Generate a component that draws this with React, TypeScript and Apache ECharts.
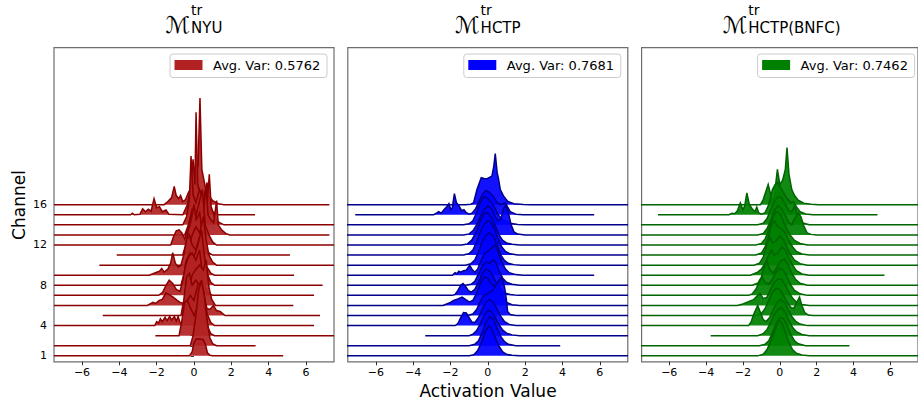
import React, { useEffect, useRef } from 'react';
import * as echarts from 'echarts';

const channels = [1, 2, 3, 4, 5, 6, 7, 8, 9, 10, 11, 12, 13, 14, 15, 16];
const xTicks = [-6, -4, -2, 0, 2, 4, 6];
const yTickLabels = [1, 4, 8, 12, 16];
const panelSubs = ['NYU', 'HCTP', 'HCTP(BNFC)'];
const avgVars = ['0.5762', '0.7681', '0.7462'];

// curve extent per channel (ch1..ch16)
const nyuXMin = [-8, -8, -2.07, -8, -4.89, -8, -8, -8, -8, -5.07, -4.14, -8, -8, -8, -8, -8];
const nyuXMax = [4.78, 3.3, 8, 6.43, 6.75, 5.32, 6.43, 6.89, 5.36, 8, 5.14, 8, 7.25, 8, 3.27, 7.25];
const hctpXMin = [-8, -8, -3.35, -8, -8, -8, -8, -8, -8, -8, -8, -8, -8, -8, -7.1, -8];
const hctpXMax = [8, 3.88, 8, 8, 8, 8, 8, 8, 5.7, 8, 8, 8, 8, 8, 5.7, 8];
const bnfcXMin = [-8, -8, -3.75, -8, -8, -8, -8, -8, -8, -8, -8, -8, -8, -8, -6.61, -8];
const bnfcXMax = [8, 3.78, 8, 8, 8, 8, 8, 8, 5.68, 8, 8, 8, 8, 8, 5.3, 8];

// density profiles [activation, height] per channel (ch1..ch16)
const nyuDensity = [
  [[-0.25,0],[-0.1,0.4],[-0.02,1.2],[0.1,1.65],[0.3,1.7],[0.5,1.6],[0.62,1.1],[0.72,0.3],[0.85,0.05],[1.0,0]],
  [[-0.2,0],[-0.05,1.0],[0.1,3.0],[0.25,5.5],[0.4,6.5],[0.55,5.0],[0.7,2.5],[0.85,0.8],[1.0,0.2],[1.2,0]],
  [[-0.8,0],[-0.65,1.5],[-0.5,3.3],[-0.35,3.5],[-0.2,2.8],[0.0,2.0],[0.2,2.8],[0.4,3.5],[0.6,2.5],[0.75,0.8],[0.9,0.2],[1.1,0]],
  [[-2.1,0],[-2.0,0.4],[-1.9,0.25],[-1.8,0.67],[-1.7,0.4],[-1.55,0.83],[-1.45,0.5],[-1.3,0.9],[-1.2,0.55],[-1.05,0.9],[-0.95,0.45],[-0.85,0.9],[-0.75,0.3],[-0.65,0.2],[-0.5,0.8],[-0.35,2.5],[-0.2,3.0],[0.0,2.5],[0.2,4.0],[0.4,4.3],[0.55,3.0],[0.7,1.2],[0.9,0.3],[1.1,0]],
  [[-0.7,0],[-0.55,1.5],[-0.4,3.8],[-0.25,4.2],[-0.1,3.0],[0.1,3.5],[0.3,3.0],[0.5,2.0],[0.7,0.7],[0.85,0.6],[1.04,1.0],[1.2,0.5],[1.4,0.4],[1.66,0]],
  [[-2.5,0],[-2.35,0.15],[-2.2,0.3],[-2.05,0.2],[-1.86,0.5],[-1.7,0.6],[-1.5,1.23],[-1.35,1.1],[-1.1,0.8],[-0.9,0.5],[-0.75,0.3],[-0.55,0.2],[-0.3,1.5],[-0.1,3.0],[0.1,3.6],[0.3,4.0],[0.5,3.5],[0.65,4.5],[0.8,1.8],[0.95,0.6],[1.15,0]],
  [[-1.9,0],[-1.68,0.3],[-1.5,1.0],[-1.33,1.5],[-1.15,1.2],[-0.95,0.6],[-0.75,0.4],[-0.6,1.5],[-0.45,3.0],[-0.3,3.8],[-0.1,4.2],[0.1,3.5],[0.3,4.5],[0.45,2.0],[0.6,0.8],[0.8,0.2],[1.0,0]],
  [[-0.7,0],[-0.55,1.0],[-0.4,2.5],[-0.2,3.2],[0.0,2.8],[0.2,4.0],[0.4,5.5],[0.55,3.0],[0.7,1.2],[0.9,0.3],[1.1,0]],
  [[-2.4,0],[-2.2,0.15],[-2.0,0.3],[-1.85,0.4],[-1.73,0.67],[-1.6,0.3],[-1.4,0.6],[-1.25,1.2],[-1.14,2.23],[-1.0,1.2],[-0.84,0.8],[-0.7,1.0],[-0.55,2.0],[-0.4,3.5],[-0.25,4.0],[-0.1,3.0],[0.1,2.5],[0.3,3.8],[0.5,2.0],[0.7,0.8],[0.9,0.2],[1.1,0]],
  [[-0.5,0],[-0.3,1.2],[-0.1,3.0],[0.1,3.8],[0.3,3.2],[0.5,4.8],[0.65,2.5],[0.8,1.0],[1.0,0.3],[1.2,0]],
  [[-0.6,0],[-0.45,1.0],[-0.3,2.5],[-0.15,3.5],[0.0,5.0],[0.12,3.5],[0.3,4.2],[0.45,2.0],[0.6,0.8],[0.8,0.2],[1.0,0]],
  [[-1.25,0],[-1.1,0.8],[-0.95,1.4],[-0.8,1.5],[-0.65,1.2],[-0.5,0.6],[-0.35,1.5],[-0.15,3.0],[0.05,2.5],[0.25,4.0],[0.45,5.5],[0.6,2.0],[0.8,1.0],[1.0,0.3],[1.2,0]],
  [[-0.5,0],[-0.3,1.0],[-0.1,2.5],[0.1,2.0],[0.3,3.0],[0.5,2.2],[0.64,4.83],[0.75,2.0],[0.9,1.5],[1.05,1.2],[1.21,3.4],[1.3,1.0],[1.5,0.45],[1.7,0.15],[1.9,0]],
  [[-0.6,0],[-0.4,0.8],[-0.25,2.5],[-0.16,6.83],[-0.05,3.0],[0.1,2.2],[0.3,3.5],[0.5,2.5],[0.7,2.0],[0.82,5.0],[0.92,1.8],[1.1,0.8],[1.3,0.3],[1.6,0]],
  [[-3.4,0],[-3.3,0.15],[-3.2,0],[-2.9,0.05],[-2.75,0.6],[-2.6,0.3],[-2.45,0.55],[-2.3,0.35],[-2.14,1.6],[-2.0,0.7],[-1.85,0.8],[-1.7,0.3],[-1.5,0.47],[-1.35,0.05],[-0.6,0],[-0.35,1.0],[-0.2,2.5],[-0.05,5.5],[0.05,3.0],[0.11,10.17],[0.2,3.0],[0.35,2.0],[0.5,1.5],[0.7,3.2],[0.8,1.0],[1.0,0.3],[1.3,0]],
  [[-1.6,0],[-1.4,0.3],[-1.2,0.7],[-1.06,1.8],[-0.95,0.9],[-0.82,0.6],[-0.72,0.9],[-0.6,0.3],[-0.45,0.5],[-0.3,1.2],[-0.1,1.8],[0.1,2.5],[0.22,4.0],[0.32,10.57],[0.42,3.5],[0.6,1.8],[0.8,0.9],[1.0,0.4],[1.3,0.1],[1.6,0]],
];

const hctpDensity = [
  [[-1.0,0],[-0.75,0.1],[-0.55,0.5],[-0.35,1.3],[-0.15,2.3],[0.05,3.0],[0.2,2.7],[0.4,1.8],[0.6,0.95],[0.8,0.4],[1.0,0.15],[1.3,0.05],[1.7,0]],
  [[-1.0,0],[-0.7,0.15],[-0.5,0.5],[-0.3,1.3],[-0.1,2.3],[0.1,2.9],[0.3,2.6],[0.5,1.7],[0.7,0.9],[0.9,0.4],[1.1,0.15],[1.5,0]],
  [[-1.0,0],[-0.8,0.15],[-0.6,0.5],[-0.4,1.2],[-0.2,2.0],[0.0,2.5],[0.2,2.4],[0.4,1.8],[0.6,1.1],[0.8,0.55],[1.0,0.25],[1.3,0.08],[1.7,0]],
  [[-1.75,0],[-1.6,0.2],[-1.45,0.8],[-1.3,1.3],[-1.15,1.25],[-1.0,0.8],[-0.85,0.35],[-0.7,0.3],[-0.5,0.8],[-0.3,1.6],[-0.1,2.3],[0.1,2.6],[0.3,2.3],[0.5,1.6],[0.7,0.9],[0.9,0.4],[1.15,0.12],[1.5,0]],
  [[-1.1,0],[-0.8,0.15],[-0.6,0.6],[-0.4,1.4],[-0.2,2.0],[0.0,2.2],[0.2,2.4],[0.4,2.9],[0.6,3.5],[0.75,3.8],[0.9,2.8],[1.0,1.5],[1.06,0.4],[1.2,0.1],[1.5,0]],
  [[-2.4,0],[-2.2,0.15],[-2.0,0.3],[-1.83,0.5],[-1.6,0.65],[-1.38,0.83],[-1.2,0.6],[-1.0,0.35],[-0.8,0.5],[-0.6,1.2],[-0.4,2.2],[-0.2,2.8],[0.0,2.7],[0.2,2.1],[0.4,1.9],[0.55,2.3],[0.7,1.6],[0.85,0.7],[1.0,0.3],[1.3,0.08],[1.7,0]],
  [[-1.9,0],[-1.75,0.1],[-1.6,0.5],[-1.45,1.0],[-1.33,1.17],[-1.2,0.9],[-1.05,0.5],[-0.9,0.3],[-0.7,0.6],[-0.5,1.3],[-0.3,2.1],[-0.1,2.6],[0.1,2.4],[0.3,1.8],[0.5,1.1],[0.7,0.55],[0.9,0.25],[1.2,0.08],[1.6,0]],
  [[-1.2,0],[-0.9,0.1],[-0.7,0.4],[-0.5,1.1],[-0.3,1.9],[-0.1,2.3],[0.1,2.2],[0.3,2.5],[0.45,2.2],[0.6,1.4],[0.8,0.7],[1.0,0.3],[1.3,0.1],[1.7,0]],
  [[-1.9,0],[-1.75,0.25],[-1.65,0.15],[-1.55,0.4],[-1.45,0.3],[-1.3,0.45],[-1.15,0.5],[-0.97,1.0],[-0.85,0.6],[-0.7,0.3],[-0.55,0.6],[-0.35,1.5],[-0.15,2.2],[0.05,2.4],[0.25,2.8],[0.4,3.0],[0.55,2.3],[0.75,1.3],[0.95,0.6],[1.15,0.25],[1.5,0.06],[1.9,0]],
  [[-1.2,0],[-0.9,0.15],[-0.7,0.5],[-0.5,1.3],[-0.3,2.3],[-0.1,3.0],[0.1,3.2],[0.3,2.9],[0.5,2.0],[0.7,1.0],[0.9,0.45],[1.1,0.18],[1.4,0.05],[1.8,0]],
  [[-1.3,0],[-1.0,0.15],[-0.8,0.5],[-0.6,1.3],[-0.4,2.3],[-0.2,3.0],[0.0,3.4],[0.15,3.3],[0.35,2.6],[0.55,1.6],[0.75,0.8],[0.95,0.35],[1.2,0.12],[1.6,0]],
  [[-1.4,0],[-1.1,0.1],[-0.85,0.5],[-0.6,1.4],[-0.4,2.4],[-0.2,3.1],[0.0,3.2],[0.2,2.7],[0.4,1.9],[0.6,1.0],[0.8,0.45],[1.0,0.2],[1.3,0.07],[1.7,0]],
  [[-1.3,0],[-1.0,0.1],[-0.8,0.4],[-0.6,1.0],[-0.4,1.8],[-0.2,2.5],[0.0,2.9],[0.2,2.6],[0.4,1.8],[0.55,1.4],[0.7,1.6],[0.85,2.6],[0.95,3.0],[1.1,2.2],[1.25,1.0],[1.4,0.3],[1.6,0.08],[2.0,0]],
  [[-1.3,0],[-1.0,0.1],[-0.8,0.4],[-0.6,1.2],[-0.4,2.2],[-0.2,2.8],[0.0,2.6],[0.2,2.2],[0.4,1.6],[0.55,1.0],[0.7,0.7],[0.9,0.4],[1.2,0.15],[1.6,0.03],[2.0,0]],
  [[-2.9,0],[-2.75,0.15],[-2.63,0.3],[-2.5,0.15],[-2.35,0.5],[-2.2,0.8],[-2.08,1.1],[-1.98,0.5],[-1.9,0.7],[-1.79,2.1],[-1.68,1.2],[-1.55,0.9],[-1.4,0.4],[-1.28,0.5],[-1.15,0.2],[-1.0,0.05],[-0.85,0.15],[-0.65,0.6],[-0.5,1.2],[-0.3,2.0],[-0.1,2.4],[0.1,2.2],[0.3,1.8],[0.5,1.2],[0.7,1.0],[0.94,1.2],[1.05,0.8],[1.2,0.3],[1.5,0.05],[1.9,0]],
  [[-1.2,0],[-0.9,0.05],[-0.76,0.2],[-0.58,1.5],[-0.35,2.67],[-0.2,2.6],[-0.04,2.57],[0.22,2.83],[0.32,3.8],[0.4,5.07],[0.5,3.2],[0.58,2.5],[0.67,1.5],[0.85,0.83],[1.06,0.33],[1.4,0.1],[1.9,0.02],[2.3,0]],
];

const bnfcDensity = [
  [[-1.2,0],[-0.9,0.15],[-0.7,0.6],[-0.5,1.4],[-0.3,2.4],[-0.1,3.3],[0.0,3.5],[0.15,3.1],[0.3,2.3],[0.5,1.3],[0.7,0.6],[0.9,0.25],[1.2,0.08],[1.6,0]],
  [[-1.1,0],[-0.8,0.15],[-0.6,0.5],[-0.4,1.3],[-0.2,2.2],[0.0,2.8],[0.2,2.7],[0.4,2.0],[0.6,1.1],[0.8,0.5],[1.0,0.2],[1.4,0]],
  [[-1.2,0],[-0.9,0.2],[-0.7,0.6],[-0.5,1.3],[-0.3,2.1],[-0.1,2.6],[0.1,2.8],[0.3,2.3],[0.5,1.5],[0.7,0.8],[0.9,0.4],[1.2,0.12],[1.6,0]],
  [[-1.7,0],[-1.55,0.4],[-1.4,1.2],[-1.2,2.0],[-1.05,1.3],[-0.9,0.6],[-0.75,0.4],[-0.55,0.8],[-0.35,1.6],[-0.15,2.3],[0.05,2.6],[0.25,2.3],[0.45,1.6],[0.65,0.9],[0.85,0.45],[1.1,0.15],[1.5,0]],
  [[-1.3,0],[-1.0,0.2],[-0.8,0.7],[-0.6,1.5],[-0.4,2.3],[-0.2,2.7],[0.0,2.6],[0.2,2.0],[0.4,1.3],[0.6,0.8],[0.75,0.7],[0.9,1.2],[1.07,1.83],[1.2,1.0],[1.35,0.3],[1.55,0.05],[1.8,0]],
  [[-2.3,0],[-2.0,0.15],[-1.8,0.3],[-1.6,0.45],[-1.43,0.57],[-1.25,0.9],[-1.07,1.17],[-0.9,0.7],[-0.7,0.8],[-0.5,1.6],[-0.3,2.3],[-0.1,2.6],[0.1,2.6],[0.3,2.0],[0.5,1.3],[0.7,0.7],[0.9,0.35],[1.2,0.1],[1.6,0]],
  [[-1.7,0],[-1.5,0.15],[-1.3,0.6],[-1.1,1.4],[-0.95,1.8],[-0.8,1.3],[-0.6,1.1],[-0.4,1.6],[-0.2,2.3],[0.0,2.7],[0.2,2.5],[0.4,1.8],[0.6,1.0],[0.8,0.5],[1.1,0.15],[1.5,0]],
  [[-1.5,0],[-1.2,0.2],[-1.0,0.8],[-0.85,1.9],[-0.7,2.4],[-0.55,1.6],[-0.35,1.2],[-0.15,1.8],[0.05,2.4],[0.25,2.6],[0.45,2.0],[0.65,1.2],[0.85,0.6],[1.1,0.2],[1.5,0]],
  [[-1.6,0],[-1.4,0.15],[-1.2,0.3],[-1.0,0.6],[-0.8,1.2],[-0.6,2.0],[-0.45,2.5],[-0.3,2.0],[-0.1,2.2],[0.1,2.8],[0.3,2.5],[0.5,1.7],[0.7,1.0],[0.9,0.45],[1.2,0.12],[1.6,0]],
  [[-1.4,0],[-1.1,0.2],[-0.9,0.8],[-0.7,2.0],[-0.55,2.8],[-0.4,2.2],[-0.2,2.4],[0.0,2.9],[0.2,2.5],[0.4,1.7],[0.6,1.0],[0.8,0.5],[1.1,0.15],[1.5,0]],
  [[-1.3,0],[-1.0,0.2],[-0.8,0.8],[-0.6,2.0],[-0.45,3.0],[-0.3,3.4],[-0.1,2.8],[0.1,2.6],[0.3,2.2],[0.5,1.4],[0.7,0.8],[0.9,0.35],[1.2,0.1],[1.6,0]],
  [[-1.3,0],[-1.0,0.15],[-0.8,0.6],[-0.6,1.5],[-0.4,2.6],[-0.2,3.3],[0.0,3.1],[0.2,2.3],[0.4,1.5],[0.6,0.9],[0.8,0.45],[1.1,0.15],[1.5,0]],
  [[-1.2,0],[-0.9,0.15],[-0.7,0.6],[-0.5,1.4],[-0.3,2.4],[-0.1,2.9],[0.1,2.6],[0.3,1.9],[0.5,1.2],[0.65,1.0],[0.8,1.6],[1.0,2.17],[1.15,1.8],[1.3,0.9],[1.48,0.2],[1.7,0.05],[2.0,0]],
  [[-1.2,0],[-0.9,0.15],[-0.7,0.6],[-0.5,1.5],[-0.3,2.3],[-0.1,2.8],[0.1,2.7],[0.3,2.0],[0.5,1.4],[0.65,1.3],[0.8,1.83],[0.95,1.0],[1.2,0.2],[1.6,0]],
  [[-2.75,0],[-2.6,0.15],[-2.45,0.1],[-2.3,0.4],[-2.14,1.17],[-2.0,0.5],[-1.9,0.9],[-1.79,2.17],[-1.65,1.0],[-1.5,0.6],[-1.35,0.3],[-1.25,0.77],[-1.15,0.2],[-1.0,0.05],[-0.8,0.2],[-0.6,1.0],[-0.4,2.5],[-0.25,3.0],[-0.13,3.2],[0.0,2.8],[0.2,2.2],[0.4,1.6],[0.6,1.2],[0.75,1.3],[0.9,0.8],[1.1,0.3],[1.4,0.08],[1.8,0]],
  [[-1.05,0],[-0.9,0.5],[-0.63,2.0],[-0.4,0.3],[-0.3,0.8],[-0.13,3.5],[0.0,2.0],[0.15,2.4],[0.3,3.5],[0.39,5.67],[0.5,3.0],[0.65,1.5],[0.8,0.9],[1.0,0.45],[1.3,0.15],[1.7,0.03],[2.1,0]],
];

const PANEL_LEFT = [54, 347.8, 641.6];
const PANEL_TOP = 47.7;
const PANEL_W = 280;
const PANEL_H = 314.1;
const FONT = 'DejaVu Sans';

const panels = [
  { xmin: nyuXMin, xmax: nyuXMax, dens: nyuDensity, fill: '#b22222', stroke: '#8b0000', swatch: '#b22222' },
  { xmin: hctpXMin, xmax: hctpXMax, dens: hctpDensity, fill: '#0000ff', stroke: '#00008b', swatch: '#0000ff' },
  { xmin: bnfcXMin, xmax: bnfcXMax, dens: bnfcDensity, fill: '#008000', stroke: '#006400', swatch: '#008000' },
];

function measure(text: string, size: number, family: string): number {
  const c = document.createElement('canvas').getContext('2d');
  if (!c) return text.length * size * 0.65;
  c.font = `${size}px "${family}"`;
  return c.measureText(text).width;
}

const minus = (v: number) => (v < 0 ? '\u2212' + Math.abs(v) : String(v));

export default function App() {
  const ref = useRef<HTMLDivElement>(null);
  useEffect(() => {
    if (!ref.current) return;
    const chart = echarts.init(ref.current, null, { renderer: 'svg' });
    const order = channels.slice().reverse();

    const grid = PANEL_LEFT.map((l) => ({
      left: l, top: PANEL_TOP, width: PANEL_W, height: PANEL_H,
      show: true, borderColor: '#6e6e6e', borderWidth: 1.2, backgroundColor: 'transparent',
    }));
    const xAxis = PANEL_LEFT.map((_, i) => ({
      gridIndex: i, type: 'value', min: -7.5, max: 7.5,
      axisLine: { show: false }, splitLine: { show: false },
      axisTick: { show: true, customValues: xTicks, length: 3.5, lineStyle: { color: '#000', width: 0.8 } },
      axisLabel: { show: true, customValues: xTicks, formatter: minus, fontSize: 11, color: '#000', fontFamily: FONT, margin: 5 },
    }));
    const yAxis = PANEL_LEFT.map((_, i) => ({
      gridIndex: i, type: 'value', min: 0.41, max: 31.57,
      axisLine: { show: false }, splitLine: { show: false },
      axisTick: { show: i === 0, customValues: channels, length: 3.5, lineStyle: { color: '#000', width: 0.8 } },
      axisLabel: { show: i === 0, customValues: yTickLabels, fontSize: 11, color: '#000', fontFamily: FONT, margin: 7 },
    }));

    const series = panels.map((p, gi) => ({
      type: 'custom', name: 'Avg. Var: ' + avgVars[gi], xAxisIndex: gi, yAxisIndex: gi, clip: true,
      data: order.map((c) => [0, c]),
      encode: { x: 0, y: 1 },
      renderItem: (params: any, api: any) => {
        const ch = order[params.dataIndex];
        const i = ch - 1;
        const pts = p.dens[i];
        const fillPts = pts.map((q) => api.coord([q[0], ch + q[1]]));
        const linePts = [[p.xmin[i], ch], ...pts.map((q) => [q[0], ch + q[1]]), [p.xmax[i], ch]].map((q) => api.coord(q));
        return {
          type: 'group',
          children: [
            { type: 'polygon', shape: { points: fillPts }, style: { fill: p.fill, opacity: 0.93 } },
            { type: 'polyline', shape: { points: linePts }, style: { stroke: p.stroke, lineWidth: 1.5, fill: null } },
          ],
        };
      },
    }));

    const graphic: any[] = [];
    const mSize = 23;
    const wM = measure('\u2133', mSize, 'DejaVu Sans');
    PANEL_LEFT.forEach((l, gi) => {
      const bx = l + PANEL_W - 7 - 157;
      graphic.push({ type: 'rect', z: 100, shape: { x: bx, y: 54, width: 157, height: 23.5, r: 3 }, style: { fill: 'rgba(255,255,255,0.85)', stroke: '#cccccc', lineWidth: 1 } });
      graphic.push({ type: 'rect', z: 101, shape: { x: bx + 4.5, y: 60, width: 28, height: 10 }, style: { fill: panels[gi].swatch } });
      graphic.push({ type: 'text', z: 101, x: bx + 43, y: 65.5, style: { text: 'Avg. Var: ' + avgVars[gi], fontSize: 13, fontFamily: FONT, fill: '#000', verticalAlign: 'middle', align: 'left' } });
      // title
      const center = l + PANEL_W / 2;
      const sub = panelSubs[gi];
      const wSub = measure(sub, 15, FONT);
      const L = center - (wM + 1 + wSub) / 2;
      graphic.push({ type: 'text', z: 101, x: L, y: 24.5, style: { text: '\u2133', fontSize: mSize, fontFamily: 'DejaVu Sans', fill: '#000', verticalAlign: 'middle', align: 'left' } });
      graphic.push({ type: 'text', z: 101, x: L + wM + 1, y: 9.8, style: { text: 'tr', fontSize: 14, fontFamily: FONT, fill: '#000', verticalAlign: 'middle', align: 'left' } });
      graphic.push({ type: 'text', z: 101, x: L + wM + 1, y: 27.8, style: { text: sub, fontSize: 15, fontFamily: FONT, fill: '#000', verticalAlign: 'middle', align: 'left' } });
    });
    graphic.push({ type: 'text', z: 101, x: 18.5, y: 205, rotation: Math.PI / 2, style: { text: 'Channel', fontSize: 17, fontFamily: FONT, fill: '#000', align: 'center', verticalAlign: 'middle' } });
    graphic.push({ type: 'text', z: 101, x: 488, y: 391, style: { text: 'Activation Value', fontSize: 17, fontFamily: FONT, fill: '#000', align: 'center', verticalAlign: 'middle' } });

    chart.setOption({
      animation: false,
      backgroundColor: '#fff',
      grid, xAxis, yAxis, series, graphic,
    });
    return () => chart.dispose();
  }, []);
  return <div ref={ref} style={{ position: 'fixed', left: 0, top: 0, width: 918, height: 408, background: '#fff' }} />;
}
